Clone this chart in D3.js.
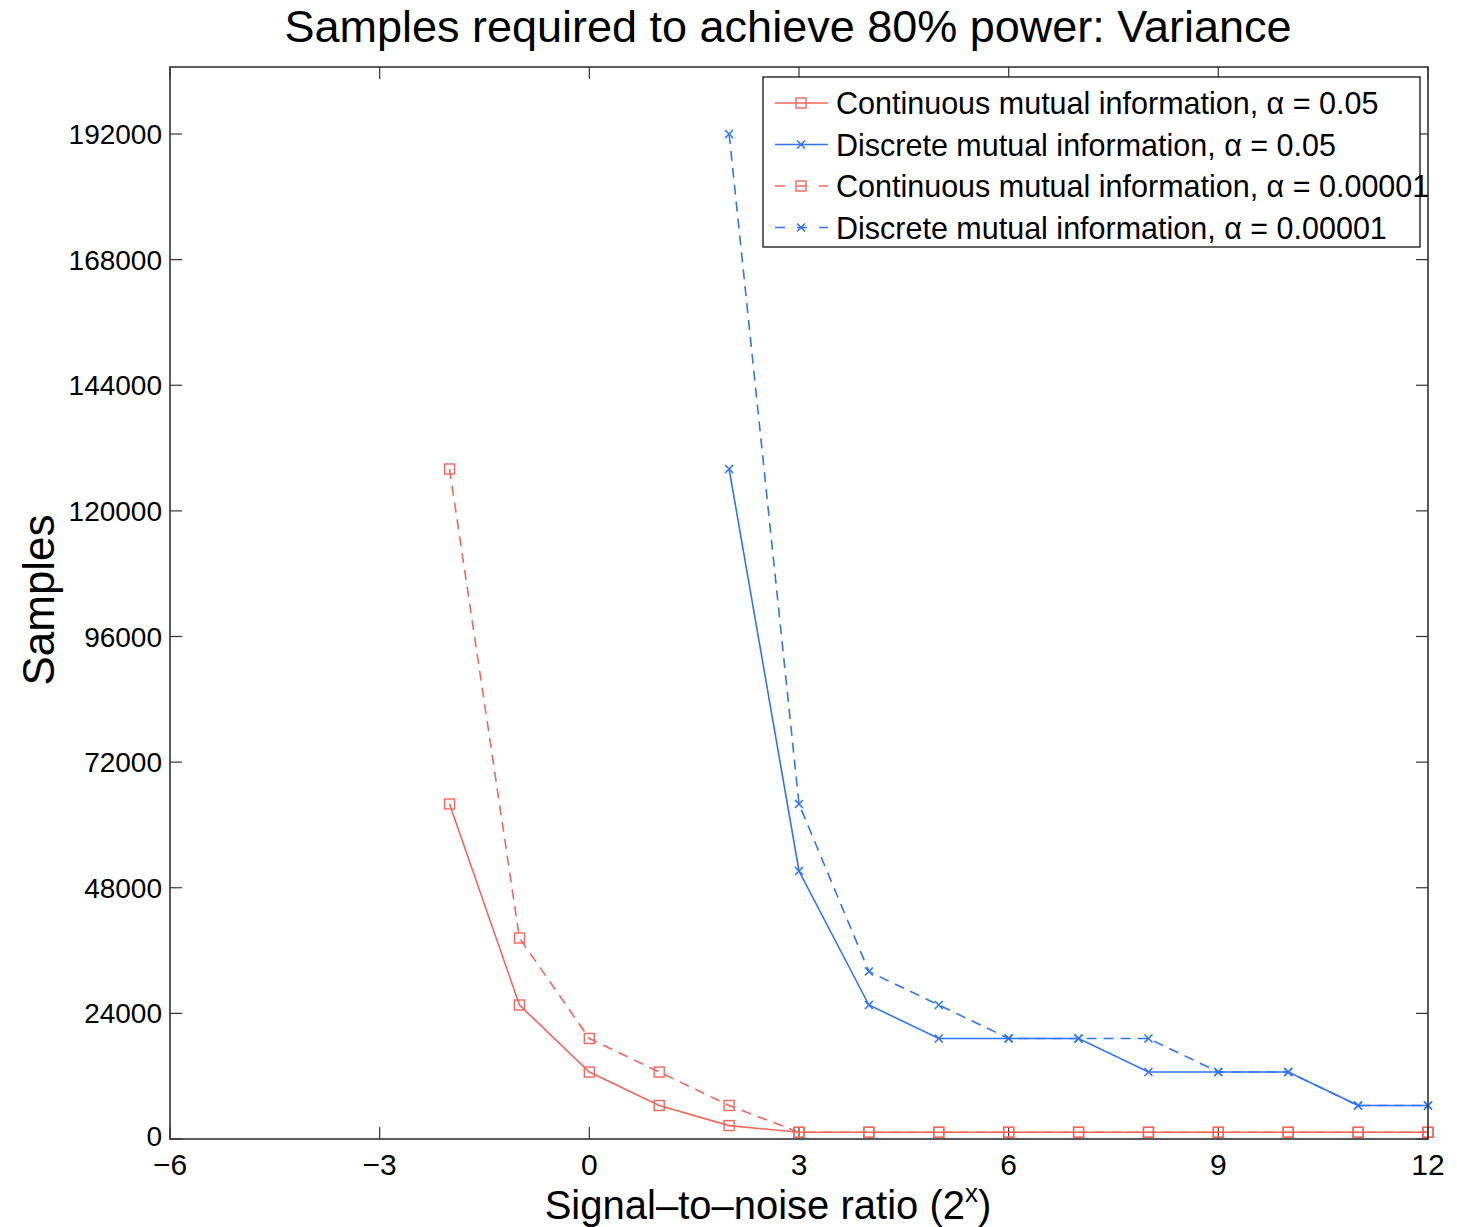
<!DOCTYPE html>
<html>
<head>
<meta charset="utf-8">
<script src="https://cdn.jsdelivr.net/npm/d3@7"></script>
<style>
  body { margin: 0; background: #fff; }
  svg { display: block; font-family: "Liberation Sans", Arial, Helvetica, sans-serif; }
</style>
</head>
<body>
<svg id="chart" width="1457" height="1227"></svg>
<script>
// ---- data ----
const title = "Samples required to achieve 80% power: Variance";
const xLabel = "Signal–to–noise ratio (2";
const yLabel = "Samples";
const xTicks = [-6, -3, 0, 3, 6, 9, 12];
const yTicks = [0, 24000, 48000, 72000, 96000, 120000, 144000, 168000, 192000];

const xContinuous = [-2, -1, 0, 1, 2, 3, 4, 5, 6, 7, 8, 9, 10, 11, 12];
const contA05    = [64000, 25600, 12800, 6400, 2560, 1280, 1280, 1280, 1280, 1280, 1280, 1280, 1280, 1280, 1280];
const contA00001 = [128000, 38400, 19200, 12800, 6400, 1280, 1280, 1280, 1280, 1280, 1280, 1280, 1280, 1280, 1280];

const xDiscrete = [2, 3, 4, 5, 6, 7, 8, 9, 10, 11, 12];
const discA05    = [128000, 51200, 25600, 19200, 19200, 19200, 12800, 12800, 12800, 6400, 6400];
const discA00001 = [192000, 64000, 32000, 25600, 19200, 19200, 19200, 12800, 12800, 6400, 6400];

const seriesNames = [
  "Continuous mutual information, α = 0.05",
  "Discrete mutual information, α = 0.05",
  "Continuous mutual information, α = 0.00001",
  "Discrete mutual information, α = 0.00001"
];

// ---- layout ----
const RED = "#f4665a", BLUE = "#2f74f5";
const series = [
  { name: seriesNames[0], xs: xContinuous, ys: contA05,    color: RED,  dash: null,  marker: "square" },
  { name: seriesNames[1], xs: xDiscrete,   ys: discA05,    color: BLUE, dash: null,  marker: "x" },
  { name: seriesNames[2], xs: xContinuous, ys: contA00001, color: RED,  dash: "10,7", marker: "square" },
  { name: seriesNames[3], xs: xDiscrete,   ys: discA00001, color: BLUE, dash: "10,7", marker: "x" }
];

const L = 170, R = 1428, T = 67, B = 1139;
const svg = d3.select("#chart");
const x = d3.scaleLinear().domain([-6, 12]).range([L, R]);
const y = d3.scaleLinear().domain([0, 204800]).range([B, T]);

// ticks (inside, on all four sides)
const tickLen = 12;
const axG = svg.append("g").attr("stroke", "#333").attr("stroke-width", 1.2);
xTicks.forEach(t => {
  axG.append("line").attr("x1", x(t)).attr("x2", x(t)).attr("y1", B).attr("y2", B - tickLen);
  axG.append("line").attr("x1", x(t)).attr("x2", x(t)).attr("y1", T).attr("y2", T + tickLen);
});
yTicks.forEach(t => {
  axG.append("line").attr("x1", L).attr("x2", L + tickLen).attr("y1", y(t)).attr("y2", y(t));
  axG.append("line").attr("x1", R).attr("x2", R - tickLen).attr("y1", y(t)).attr("y2", y(t));
});

// tick labels
const fmtX = d => d < 0 ? "−" + Math.abs(d) : String(d);
svg.append("g").selectAll("text").data(xTicks).join("text")
  .attr("x", d => x(d)).attr("y", 1175)
  .attr("text-anchor", "middle").attr("font-size", 30).attr("fill", "#000")
  .text(fmtX);
svg.append("g").selectAll("text").data(yTicks).join("text")
  .attr("x", 162).attr("y", d => y(d) + (d === 0 ? 7 : 10))
  .attr("text-anchor", "end").attr("font-size", 28).attr("fill", "#000")
  .text(d => String(d));

// lines
svg.append("clipPath").attr("id", "clip")
  .append("rect").attr("x", L - 8).attr("y", T).attr("width", R - L + 16).attr("height", B - T + 8);
const plot = svg.append("g").attr("clip-path", "url(#clip)");
const line = d3.line().x(d => x(d[0])).y(d => y(d[1]));

function drawMarker(g, type, cx, cy, color) {
  if (type === "square") {
    g.append("rect").attr("x", cx - 5).attr("y", cy - 5).attr("width", 10).attr("height", 10)
      .attr("fill", "none").attr("stroke", color).attr("stroke-width", 1.4);
  } else {
    const s = 4;
    g.append("path").attr("d", `M${cx - s},${cy - s}L${cx + s},${cy + s}M${cx - s},${cy + s}L${cx + s},${cy - s}`)
      .attr("stroke", color).attr("stroke-width", 1.6).attr("fill", "none");
  }
}

series.forEach(s => {
  const pts = s.xs.map((v, i) => [v, s.ys[i]]);
  plot.append("path").datum(pts).attr("d", line)
    .attr("fill", "none").attr("stroke", s.color).attr("stroke-width", 1.6)
    .attr("stroke-dasharray", s.dash);
  const mg = plot.append("g");
  pts.forEach(p => drawMarker(mg, s.marker, x(p[0]), y(p[1]), s.color));
});

// box
svg.append("rect").attr("x", L).attr("y", T).attr("width", R - L).attr("height", B - T)
  .attr("fill", "none").attr("stroke", "#333").attr("stroke-width", 1.6);

// legend
const lg = svg.append("g");
lg.append("rect").attr("x", 763).attr("y", 77).attr("width", 657).attr("height", 170)
  .attr("fill", "#fff").attr("stroke", "#222").attr("stroke-width", 1.4);
series.forEach((s, i) => {
  const ly = 103 + i * 41.5;
  lg.append("line").attr("x1", 775).attr("x2", 828).attr("y1", ly).attr("y2", ly)
    .attr("stroke", s.color).attr("stroke-width", 1.6).attr("stroke-dasharray", s.dash ? "10,12" : null);
  drawMarker(lg, s.marker, 801, ly, s.color);
  lg.append("text").attr("x", 836).attr("y", ly + 11).attr("font-size", 30.5).attr("fill", "#000")
    .text(s.name);
});

// title and labels
svg.append("text").attr("x", 788).attr("y", 42).attr("text-anchor", "middle")
  .attr("font-size", 45).attr("fill", "#000").text(title);
const xl = svg.append("text").attr("x", 768).attr("y", 1219).attr("text-anchor", "middle")
  .attr("font-size", 40).attr("fill", "#000");
xl.append("tspan").text(xLabel);
xl.append("tspan").attr("font-size", 26).attr("dy", -17).text("x");
xl.append("tspan").attr("dy", 17).text(")");
svg.append("text").attr("transform", "translate(54,600) rotate(-90)").attr("text-anchor", "middle")
  .attr("font-size", 44).attr("fill", "#000").text(yLabel);
</script>
</body>
</html>
